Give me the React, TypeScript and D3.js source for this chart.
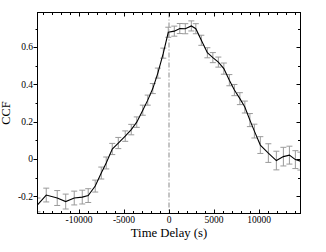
import React from "react";
import * as d3 from "d3";

const lags = [-14600, -13630, -12410, -11470, -10520, -9630, -8970, -8190, -7520, -6970, -6300, -5630, -4860, -4190, -3580, -2910, -2360, -1800, -1240, -630, -80, 590, 1200, 1810, 2480, 2980, 3590, 4260, 4870, 5480, 6090, 6700, 7260, 7870, 8420, 8980, 9480, 10140, 11030, 11920, 12700, 13370, 14030, 14590];
const ccf = [-0.246, -0.193, -0.209, -0.228, -0.209, -0.204, -0.196, -0.145, -0.075, -0.021, 0.054, 0.086, 0.123, 0.158, 0.198, 0.262, 0.316, 0.378, 0.461, 0.568, 0.68, 0.686, 0.7, 0.699, 0.714, 0.699, 0.637, 0.57, 0.544, 0.52, 0.485, 0.423, 0.37, 0.324, 0.279, 0.209, 0.15, 0.075, 0.032, -0.008, 0.013, 0.021, -0.003, -0.011];
const errs = [0.037, 0.037, 0.04, 0.04, 0.037, 0.037, 0.037, 0.032, 0.032, 0.032, 0.03, 0.03, 0.028, 0.028, 0.028, 0.027, 0.027, 0.027, 0.027, 0.027, 0.027, 0.027, 0.027, 0.027, 0.027, 0.027, 0.027, 0.027, 0.027, 0.027, 0.03, 0.03, 0.03, 0.032, 0.032, 0.035, 0.037, 0.045, 0.05, 0.05, 0.05, 0.048, 0.048, 0.048];

const xMajor = [-10000, -5000, 0, 5000, 10000];
const xMinor = d3.range(-14000, 14001, 1000).filter((v) => v % 5000 !== 0);
const yMajor = [-0.2, 0, 0.2, 0.4, 0.6];
const yMinor = [-0.1, 0.1, 0.3, 0.5, 0.7];

const W = 326, H = 252;
const L = 37.5, R = 300.5, T = 12.5, B = 213.5;

export default function App() {
  const x = d3.scaleLinear().domain([-14600, 14600]).range([L, R]);
  const y = d3.scaleLinear().domain([-0.292, 0.786]).range([B, T]);
  const pts = lags.map((l, i) => ({ l, v: ccf[i], e: errs[i] }));
  const line = d3.line<any>().x((d) => x(d.l)).y((d) => y(d.v))(pts) || "";
  const font = "'Liberation Serif', 'DejaVu Serif', serif";
  const fmtX = (v: number) => (v < 0 ? "-" + Math.abs(v) : String(v));
  const fmtY = (v: number) => (v === 0 ? "0" : v < 0 ? "-" + String(Math.abs(v)) : String(v));
  return (
    <div style={{ position: "fixed", left: 0, top: 0, width: W, height: H, background: "#fff" }}>
      <svg width={W} height={H} style={{ display: "block" }}>
        <defs>
          <clipPath id="plotclip">
            <rect x={L} y={T} width={R - L} height={B - T} />
          </clipPath>
        </defs>
        <rect x={0} y={0} width={W} height={H} fill="#fff" />
        <line x1={x(0)} x2={x(0)} y1={T} y2={B} stroke="#8a8a8a" strokeWidth={1} strokeDasharray="5,2,1,2" />
        <g clipPath="url(#plotclip)">
          {pts.map((d, i) => {
            const cx = x(d.l);
            const y1 = y(d.v + d.e);
            const y2 = y(d.v - d.e);
            return (
              <g key={i} stroke="#9a9a9a" strokeWidth={1}>
                <line x1={cx} x2={cx} y1={y1} y2={y2} />
                <line x1={cx - 3} x2={cx + 3} y1={y1} y2={y1} />
                <line x1={cx - 3} x2={cx + 3} y1={y2} y2={y2} />
              </g>
            );
          })}
          <path d={line} fill="none" stroke="#000" strokeWidth={1.1} />
        </g>
        <rect x={L} y={T} width={R - L} height={B - T} fill="none" stroke="#000" strokeWidth={1} />
        <g stroke="#000" strokeWidth={1}>
          {xMajor.map((v) => (
            <g key={"xM" + v}>
              <line x1={Math.round(x(v)) + 0.5} x2={Math.round(x(v)) + 0.5} y1={B} y2={B - 4} />
              <line x1={Math.round(x(v)) + 0.5} x2={Math.round(x(v)) + 0.5} y1={T} y2={T + 4} />
            </g>
          ))}
          {xMinor.map((v) => (
            <g key={"xm" + v}>
              <line x1={Math.round(x(v)) + 0.5} x2={Math.round(x(v)) + 0.5} y1={B} y2={B - 2.5} />
              <line x1={Math.round(x(v)) + 0.5} x2={Math.round(x(v)) + 0.5} y1={T} y2={T + 2.5} />
            </g>
          ))}
          {yMajor.map((v) => (
            <g key={"yM" + v}>
              <line x1={L - 4} x2={L} y1={Math.round(y(v)) + 0.5} y2={Math.round(y(v)) + 0.5} />
              <line x1={R} x2={R - 4} y1={Math.round(y(v)) + 0.5} y2={Math.round(y(v)) + 0.5} />
            </g>
          ))}
          {yMinor.map((v) => (
            <g key={"ym" + v}>
              <line x1={L - 2} x2={L} y1={Math.round(y(v)) + 0.5} y2={Math.round(y(v)) + 0.5} />
              <line x1={R} x2={R - 2.5} y1={Math.round(y(v)) + 0.5} y2={Math.round(y(v)) + 0.5} />
            </g>
          ))}
        </g>
        <g fontFamily={font} fontSize={9.5} fill="#000">
          {xMajor.map((v) => (
            <text key={"xl" + v} x={x(v)} y={223} textAnchor="middle">{fmtX(v)}</text>
          ))}
          {yMajor.map((v) => (
            <text key={"yl" + v} x={33} y={y(v) + 3.3} textAnchor="end">{fmtY(v)}</text>
          ))}
        </g>
        <text x={(L + R) / 2} y={237} textAnchor="middle" fontFamily={font} fontSize={12.7} fill="#000">Time Delay (s)</text>
        <text transform={`translate(10,${(T + B) / 2}) rotate(-90)`} textAnchor="middle" fontFamily={font} fontSize={12.3} fill="#000">CCF</text>
      </svg>
    </div>
  );
}
